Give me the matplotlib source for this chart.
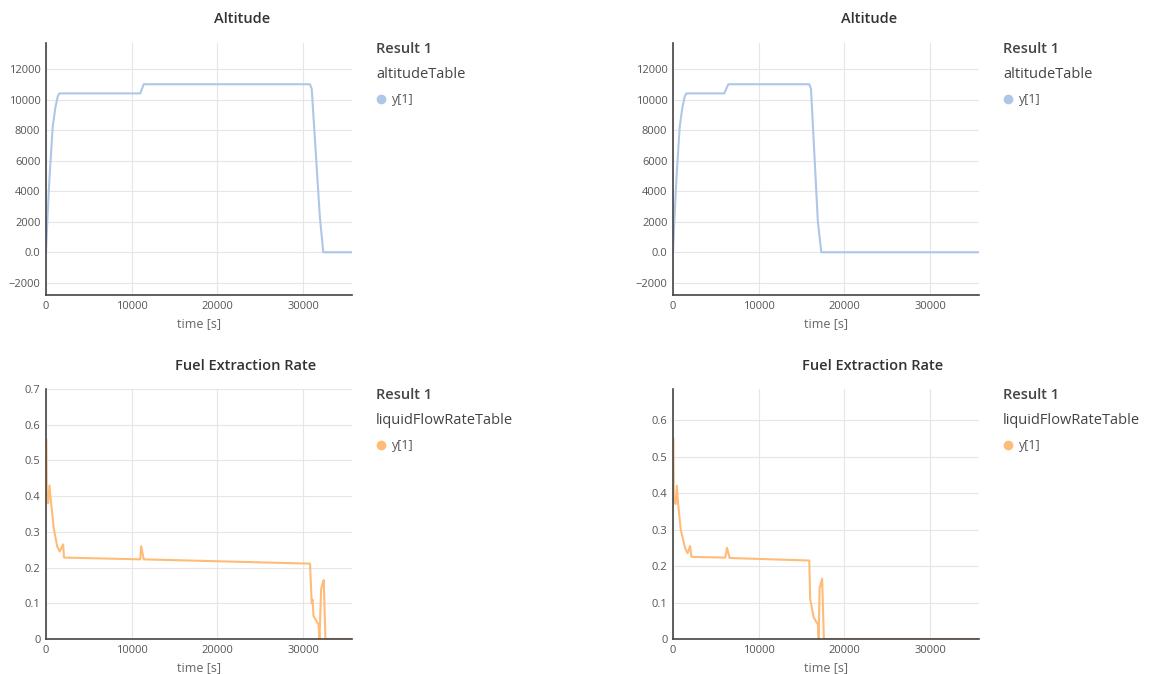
import matplotlib.pyplot as plt
from matplotlib.lines import Line2D

plt.rcParams['font.family'] = ['Open Sans', 'DejaVu Sans']

# Altitude, result 1 (long flight) and result 2 (short flight)
alt_t1 = [0, 150, 400, 780, 1100, 1370, 1560, 11000, 11400, 30800, 31000, 31950, 32350, 36000]
alt_y1 = [0, 2000, 4800, 8200, 9500, 10200, 10400, 10400, 11000, 11000, 10700, 2300, 0, 0]
alt_t2 = [0, 150, 400, 780, 1100, 1370, 1560, 5980, 6450, 15900, 16100, 16900, 17300, 36000]
alt_y2 = [0, 2000, 4800, 8200, 9500, 10200, 10400, 10400, 11000, 11000, 10700, 2000, 0, 0]

# Fuel extraction rate
fuel_t1 = [0, 20, 100, 250, 400, 600, 900, 1300, 1600, 2000, 2100, 11000, 11100, 11400,
           30800, 31000, 31100, 31200, 31800, 31900, 32100, 32200, 32400, 32600, 36000]
fuel_y1 = [0.44, 0.56, 0.40, 0.38, 0.43, 0.38, 0.31, 0.26, 0.245, 0.265, 0.228, 0.223, 0.26, 0.223,
           0.211, 0.10, 0.11, 0.065, 0.04, 0.0, 0.14, 0.15, 0.165, 0.0, 0.0]
fuel_t2 = [0, 20, 100, 300, 450, 600, 900, 1400, 1700, 2000, 2150, 6100, 6300, 6600,
           15900, 16000, 16400, 16900, 17000, 17100, 17400, 17600, 36000]
fuel_y2 = [0.43, 0.55, 0.38, 0.37, 0.42, 0.37, 0.30, 0.25, 0.235, 0.255, 0.225, 0.223, 0.25, 0.222,
           0.215, 0.11, 0.06, 0.04, 0.0, 0.14, 0.165, 0.0, 0.0]

alt_ticks = [-2000, 0, 2000, 4000, 6000, 8000, 10000, 12000]
alt_labels = ['\u22122000', '0.0', '2000', '4000', '6000', '8000', '10000', '12000']
x_ticks = [0, 10000, 20000, 30000]

blue = '#aec7e8'
orange = '#ffbb78'
W, H = 1154, 674

fig = plt.figure(figsize=(11.54, 6.74), dpi=100)


def make_ax(x0, x1, ytop, ybot):
    ax = fig.add_axes([x0 / W, 1 - ybot / H, (x1 - x0) / W, (ybot - ytop) / H])
    for s in ['top', 'right']:
        ax.spines[s].set_visible(False)
    for s in ['left', 'bottom']:
        ax.spines[s].set_color('#444444')
        ax.spines[s].set_linewidth(1.2)
    ax.grid(True, color='#e6e6e6', linewidth=0.8)
    ax.set_axisbelow(True)
    ax.tick_params(length=0, labelsize=8, labelcolor='#555555', pad=4)
    ax.set_xlim(0, 35700)
    ax.set_xticks(x_ticks)
    ax.set_xlabel('time [s]', fontsize=9, color='#666666', labelpad=4)
    return ax


def legend(x, y, name, color):
    fig.text(x / W, 1 - y / H, 'Result 1', fontsize=10.5, color='#444444', va='center', fontweight='semibold')
    fig.text(x / W, 1 - (y + 25) / H, name, fontsize=10.5, color='#444444', va='center')
    fig.add_artist(Line2D([(x + 5) / W], [1 - (y + 50) / H], marker='o', markersize=6,
                          color=color, linestyle='none'))
    fig.text((x + 16) / W, 1 - (y + 50) / H, 'y[1]', fontsize=9, color='#555555', va='center')


for x0, x1, leg_x, t_alt, y_alt, t_fuel, y_fuel, fuel_top, fuel_ticks in [
        (46, 352, 376, alt_t1, alt_y1, fuel_t1, fuel_y1, 0.7, [0, 0.1, 0.2, 0.3, 0.4, 0.5, 0.6, 0.7]),
        (673, 979, 1003, alt_t2, alt_y2, fuel_t2, fuel_y2, 0.685, [0, 0.1, 0.2, 0.3, 0.4, 0.5, 0.6])]:
    ax = make_ax(x0, x1, 43, 295)
    ax.plot(t_alt, y_alt, color=blue, linewidth=1.5)
    ax.set_ylim(-2800, 13700)
    ax.set_yticks(alt_ticks)
    ax.set_yticklabels(alt_labels)
    fig.text((x0 + 196) / W, 1 - 19 / H, 'Altitude', fontsize=10.5, color='#333333',
             fontweight='semibold', ha='center', va='center')
    legend(leg_x, 49, 'altitudeTable', blue)

    ax = make_ax(x0, x1, 389, 639)
    ax.plot(t_fuel, y_fuel, color=orange, linewidth=1.5)
    ax.set_ylim(0, fuel_top)
    ax.set_yticks(fuel_ticks)
    ax.set_yticklabels(['0'] + [f'{v:.1f}' for v in fuel_ticks[1:]])
    fig.text((x0 + 200) / W, 1 - 366 / H, 'Fuel Extraction Rate', fontsize=10.5, color='#333333',
             fontweight='semibold', ha='center', va='center')
    legend(leg_x, 395, 'liquidFlowRateTable', orange)

fig.savefig('out.png', dpi=100)
